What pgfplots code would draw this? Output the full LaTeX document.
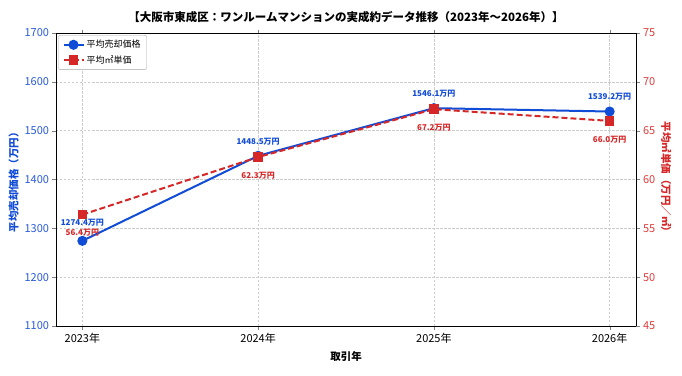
\documentclass[border=0pt]{standalone}
\usepackage{pgfplots}
\pgfplotsset{compat=1.18}
\usepackage{fontspec}
\setmainfont{Noto Sans CJK JP}
\definecolor{priceblue}{RGB}{17,76,214}
\definecolor{tickblue}{RGB}{40,90,220}
\definecolor{unitred}{RGB}{214,39,40}
\definecolor{tickred}{RGB}{225,60,60}

% yearly figures: average sale price (10k yen) and average price per m2 (10k yen)
\pgfplotstableread{
x price unit
0 1274.4 56.4
1 1448.5 62.3
2 1546.1 67.2
3 1539.2 66.0
}\yeardata

\begin{document}
\begin{tikzpicture}
\pgfplotsset{
  common/.style={
    scale only axis, width=580pt, height=293pt,
    xmin=-0.15, xmax=3.15,
    tick align=outside, major tick length=3.5pt,
    /pgf/number format/assume math mode=true,
    tick label style={font=\fontsize{11}{12}\selectfont},
  },
  reddash/.style={dash pattern=on 6pt off 3pt},
  % value labels printed from the point's own value
  valuelabel/.style={
    draw=none, mark=none, forget plot, point meta=explicit,
    nodes near coords={\pgfmathprintnumber[fixed,precision=1,fixed zerofill,1000 sep={}]{\pgfplotspointmeta}万円},
    every node near coord/.append style={font=\bfseries\fontsize{8}{9}\selectfont,
      color=#1, anchor=center, inner sep=0pt},
  },
}
% slightly longer legend samples
\pgfplotsset{legend image code/.code={
  \draw[mark repeat=2,mark phase=2,#1] plot coordinates {(0pt,0pt) (10pt,0pt) (20pt,0pt)};}}
\begin{axis}[
  common, name=main,
  ymin=1100, ymax=1700, ytick={1100,1200,...,1700},
  xtick={0,1,2,3}, xticklabels={2023年,2024年,2025年,2026年},
  yticklabel style={color=tickblue},
  /pgf/number format/1000 sep={},
  grid=major,
  major grid style={gray!40, dash pattern=on 2.5pt off 1.5pt, line width=0.5pt},
  axis line style={line width=0.8pt},
  ylabel={\bfseries 平均売却価格（万円）},
  ylabel style={color=priceblue, font=\fontsize{10.5}{12}\selectfont, yshift=-1pt},
  xlabel={\bfseries 取引年},
  xlabel style={font=\fontsize{10.5}{12}\selectfont, yshift=-1pt},
  title={\bfseries 【大阪市東成区：ワンルームマンションの実成約データ推移（2023年〜2026年）】},
  title style={font=\fontsize{11.5}{13}\selectfont, yshift=1pt},
  legend cell align=left,
  legend style={font=\fontsize{9}{10}\selectfont, draw=gray!70, rounded corners=2pt,
    at={(0.004,0.993)}, anchor=north west, inner xsep=4pt, inner ysep=3pt, row sep=2pt},
]
\addplot[priceblue, line width=2pt, mark=*, mark size=4pt] table[x=x, y=price] {\yeardata};
\addlegendentry{平均売却価格}
\addlegendimage{unitred, reddash, line width=2pt, mark=square*, mark size=3.8pt, mark options={solid}}
\addlegendentry{平均㎡単価}
\addplot[valuelabel=priceblue, skip coords between index={0}{1},
  every node near coord/.append style={yshift=14.5pt}]
  table[x=x, y=price, meta=price] {\yeardata};
\addplot[valuelabel=priceblue, skip coords between index={1}{4},
  every node near coord/.append style={yshift=18pt}]
  table[x=x, y=price, meta=price] {\yeardata};
\end{axis}
\begin{axis}[
  common,
  axis x line=none,
  axis y line*=right,
  ymin=45, ymax=75, ytick={45,50,...,75},
  yticklabel style={color=tickred},
  axis line style={line width=0.8pt},
  ylabel={\bfseries 平均㎡単価（万円／㎡）},
  ylabel style={color=unitred, font=\fontsize{10.5}{12}\selectfont, rotate=180, yshift=-1pt},
]
\addplot[unitred, reddash, line width=2pt, mark=square*, mark size=3.8pt, mark options={solid}]
  table[x=x, y=unit] {\yeardata};
\addplot[valuelabel=unitred, every node near coord/.append style={yshift=-18.5pt}]
  table[x=x, y=unit, meta=unit] {\yeardata};
\end{axis}
\path[use as bounding box] (main.south west) ++(-56pt,-49pt) rectangle ([shift={(46pt,33pt)}]main.north east);
\end{tikzpicture}
\end{document}
